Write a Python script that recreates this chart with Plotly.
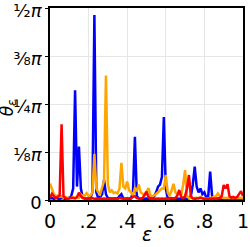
import numpy as np
import plotly.graph_objects as go

# epsilon grid (0.00 .. 1.00 step 0.01)
eps = np.round(np.linspace(0, 1, 101), 2)

# theta / pi values
red = [0.005, 0.016, 0.010, 0.005, 0.008, 0.012, 0.197, 0.010, 0.005, 0.003,
       0.004, 0.006, 0.005, 0.004, 0.008, 0.019, 0.010, 0.005, 0.004, 0.003,
       0.004, 0.003, 0.005, 0.003, 0.004, 0.003, 0.004, 0.003, 0.004, 0.003,
       0.004, 0.003, 0.004, 0.003, 0.004, 0.003, 0.005, 0.004, 0.003, 0.004,
       0.003, 0.004, 0.005, 0.008, 0.010, 0.005, 0.004, 0.003, 0.005, 0.012,
       0.022, 0.008, 0.004, 0.003, 0.004, 0.003, 0.004, 0.003, 0.004, 0.003,
       0.004, 0.003, 0.004, 0.005, 0.004, 0.005, 0.012, 0.026, 0.008, 0.005,
       0.010, 0.030, 0.065, 0.010, 0.004, 0.003, 0.004, 0.005, 0.006, 0.004,
       0.003, 0.004, 0.003, 0.004, 0.003, 0.004, 0.003, 0.004, 0.005, 0.010,
       0.039, 0.030, 0.041, 0.010, 0.006, 0.008, 0.005, 0.008, 0.015, 0.023,
       0.010]

blue = [0.004, 0.005, 0.003, 0.006, 0.004, 0.003, 0.005, 0.004, 0.003, 0.005,
        0.006, 0.010, 0.030, 0.286, 0.035, 0.139, 0.030, 0.006, 0.004, 0.003,
        0.005, 0.006, 0.020, 0.482, 0.020, 0.005, 0.008, 0.015, 0.052, 0.015,
        0.005, 0.004, 0.003, 0.004, 0.005, 0.004, 0.010, 0.015, 0.004, 0.003,
        0.004, 0.003, 0.004, 0.020, 0.165, 0.010, 0.004, 0.003, 0.004, 0.003,
        0.004, 0.003, 0.004, 0.005, 0.010, 0.020, 0.035, 0.040, 0.060, 0.216,
        0.030, 0.006, 0.004, 0.003, 0.004, 0.003, 0.004, 0.003, 0.004, 0.003,
        0.004, 0.003, 0.004, 0.010, 0.040, 0.087, 0.035, 0.020, 0.030, 0.015,
        0.020, 0.006, 0.010, 0.074, 0.010, 0.004, 0.003, 0.004, 0.003, 0.004,
        0.003, 0.004, 0.003, 0.004, 0.003, 0.004, 0.003, 0.004, 0.003, 0.004,
        0.003]

orange = [0.043, 0.030, 0.015, 0.010, 0.012, 0.008, 0.010, 0.006, 0.008, 0.005,
          0.006, 0.005, 0.008, 0.005, 0.006, 0.005, 0.015, 0.010, 0.012, 0.018,
          0.010, 0.012, 0.020, 0.120, 0.030, 0.020, 0.015, 0.030, 0.050, 0.324,
          0.040, 0.020, 0.025, 0.018, 0.020, 0.017, 0.030, 0.097, 0.035, 0.030,
          0.048, 0.025, 0.020, 0.012, 0.030, 0.025, 0.040, 0.020, 0.015, 0.012,
          0.020, 0.031, 0.012, 0.010, 0.012, 0.015, 0.020, 0.025, 0.030, 0.030,
          0.065, 0.020, 0.010, 0.025, 0.042, 0.020, 0.015, 0.018, 0.012, 0.040,
          0.078, 0.010, 0.005, 0.006, 0.004, 0.005, 0.006, 0.004, 0.008, 0.005,
          0.004, 0.005, 0.004, 0.005, 0.006, 0.008, 0.010, 0.017, 0.010, 0.006,
          0.005, 0.006, 0.005, 0.006, 0.005, 0.004, 0.005, 0.006, 0.005, 0.004,
          0.005]

x_tickvals = [0, 0.2, 0.4, 0.6, 0.8, 1.0]
x_ticktext = ["0", ".2", ".4", ".6", ".8", "1"]
y_tickvals = [0, 0.125, 0.25, 0.375, 0.5]
y_ticktext = ["0", "⅛<i>π</i>", "¼<i>π</i>", "⅜<i>π</i>", "½<i>π</i>"]

fig = go.Figure()
for vals, col in [(blue, "#0000ff"), (orange, "#ffa500"), (red, "#ff0000")]:
    fig.add_trace(go.Scatter(x=eps, y=vals, mode="lines",
                             line=dict(color=col, width=2.5), showlegend=False))

axis_common = dict(showline=True, linecolor="black", linewidth=1.5, mirror=True,
                   showgrid=True, gridcolor="#e6e6e6", gridwidth=1,
                   ticks="outside", ticklen=3, tickcolor="black", zeroline=False,
                   automargin=False, ticklabeloverflow="allow")

fig.update_layout(
    width=250, height=247,
    margin=dict(l=50, r=7, t=8, b=47),
    paper_bgcolor="white", plot_bgcolor="white",
    xaxis=dict(range=[0, 1.0002], tickvals=x_tickvals, ticktext=x_ticktext,
               tickfont=dict(family="DejaVu Sans", size=19, color="black"),
               **axis_common),
    yaxis=dict(range=[0, 0.5002], tickvals=y_tickvals, ticktext=y_ticktext,
               ticklabelshift=3,
               tickfont=dict(family="DejaVu Sans", size=18, color="black"),
               **axis_common),
    annotations=[
        dict(text="<i>ε</i>", xref="paper", yref="paper", x=0.5, y=-0.175,
             xanchor="center", yanchor="middle", showarrow=False,
             font=dict(family="DejaVu Sans", size=19, color="black")),
        dict(text="<i>θ</i><sub><i>ε</i></sub>", xref="paper", yref="paper",
             x=-0.215, y=0.48, xanchor="center", yanchor="middle",
             textangle=-90, showarrow=False,
             font=dict(family="DejaVu Sans", size=17, color="black")),
    ],
)

fig.write_html("out.html", config={"displayModeBar": False},
               post_script="document.body.style.margin='0px';")
